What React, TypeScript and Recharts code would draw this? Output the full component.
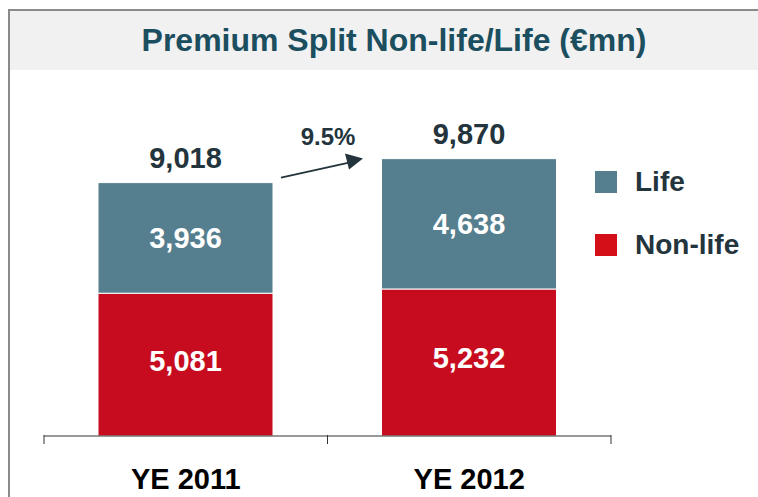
import React from "react";
import { BarChart, Bar, XAxis, YAxis, LabelList } from "recharts";

const categories = ["YE 2011", "YE 2012"];
const nonLifeValues = [5081, 5232];
const lifeValues = [3936, 4638];
const totalValues = [9018, 9870];
const growthLabel = "9.5%";
const legendLabels = ["Life", "Non-life"];

const data = categories.map((c, i) => ({
  name: c,
  nonLife: nonLifeValues[i],
  life: lifeValues[i],
  total: totalValues[i],
}));

const FONT = "'Liberation Sans', Arial, sans-serif";
const DARK = "#23343c";
const LIFE = "#557e8e";
const NONLIFE = "#c80c1f";
const LEGEND_RED = "#d50f17";

const AxisTick = (props: any) => {
  const { x, y, payload, index } = props;
  const half = payload.offset || 0;
  return (
    <g>
      <line x1={x - half} y1={y - 9} x2={x - half} y2={y} stroke="#333" strokeWidth={1} />
      {index === categories.length - 1 && (
        <line x1={x + half} y1={y - 9} x2={x + half} y2={y} stroke="#333" strokeWidth={1} />
      )}
      <text x={x} y={y + 45} textAnchor="middle" fontFamily={FONT} fontWeight="bold" fontSize={29} fill="#000">
        {payload.value}
      </text>
    </g>
  );
};

const TotalLabel = (props: any) => {
  const { x, y, width, value, index } = props;
  return (
    <g>
      <text x={x + width / 2} y={y - 15} textAnchor="middle" fontFamily={FONT} fontWeight="bold" fontSize={29} fill={DARK}>
        {Number(value).toLocaleString("en-US")}
      </text>
      {index === 0 && (
        <g>
          <line x1={x + width + 8} y1={y - 5} x2={x + width + 76} y2={y - 20} stroke={DARK} strokeWidth={2} />
          <path
            d={`M${x + width + 90},${y - 24} L${x + width + 72},${y - 29} L${x + width + 76},${y - 13} z`}
            fill={DARK}
          />
          <text x={x + width + 55} y={y - 38} textAnchor="middle" fontFamily={FONT} fontWeight="bold" fontSize={24} fill={DARK}>
            {growthLabel}
          </text>
        </g>
      )}
    </g>
  );
};

const InnerLabel = (props: any) => {
  const { x, y, width, height, value, shift } = props;
  return (
    <text
      x={x + width / 2}
      y={y + height / 2}
      dy={shift ?? 10}
      textAnchor="middle"
      fontFamily={FONT}
      fontWeight="bold"
      fontSize={29}
      fill="#fff"
    >
      {Number(value).toLocaleString("en-US")}
    </text>
  );
};

export default function App() {
  const legendColors = [LIFE, LEGEND_RED];
  return (
    <div style={{ position: "absolute", left: 0, top: 0, width: 758, height: 497, background: "#fff", overflow: "hidden" }}>
      <div
        style={{
          position: "absolute",
          left: 8,
          top: 9,
          width: 760,
          height: 500,
          borderLeft: "2px solid #8a8a8a",
          borderTop: "2px solid #8a8a8a",
        }}
      />
      <div
        style={{
          position: "absolute",
          left: 10,
          top: 11,
          width: 748,
          height: 59,
          background: "#f1f1f1",
          display: "flex",
          alignItems: "center",
          justifyContent: "center",
          fontFamily: FONT,
          fontWeight: "bold",
          fontSize: 32,
          color: "#1b4e5f",
          paddingLeft: 20,
          boxSizing: "border-box",
        }}
      >
        Premium Split Non-life/Life (€mn)
      </div>
      <div style={{ position: "absolute", left: 0, top: 0 }}>
        <BarChart
          width={758}
          height={497}
          data={data}
          margin={{ top: 155, right: 147, bottom: 0, left: 44 }}
          barSize={175}
        >
          <XAxis
            dataKey="name"
            height={61}
            axisLine={{ stroke: "#333", strokeWidth: 1 }}
            tickLine={false}
            tick={<AxisTick />}
            interval={0}
          />
          <YAxis hide domain={[0, 10000]} type="number" allowDataOverflow />
          <Bar dataKey="nonLife" stackId="a" fill={NONLIFE} stroke="#fff" strokeWidth={1} isAnimationActive={false} name="Non-life">
            <LabelList dataKey="nonLife" content={<InnerLabel shift={6} />} />
          </Bar>
          <Bar dataKey="life" stackId="a" fill={LIFE} stroke="#fff" strokeWidth={1} isAnimationActive={false} name="Life">
            <LabelList dataKey="life" content={<InnerLabel shift={10} />} />
            <LabelList dataKey="total" content={<TotalLabel />} />
          </Bar>
        </BarChart>
      </div>
      <div style={{ position: "absolute", left: 595, top: 150 }}>
        {legendLabels.map((label, i) => (
          <div key={label} style={{ display: "flex", alignItems: "center", height: 63 }}>
            <div style={{ width: 22, height: 22, background: legendColors[i], marginRight: 18 }} />
            <span style={{ fontFamily: FONT, fontWeight: "bold", fontSize: 28, color: DARK }}>{label}</span>
          </div>
        ))}
      </div>
    </div>
  );
}
